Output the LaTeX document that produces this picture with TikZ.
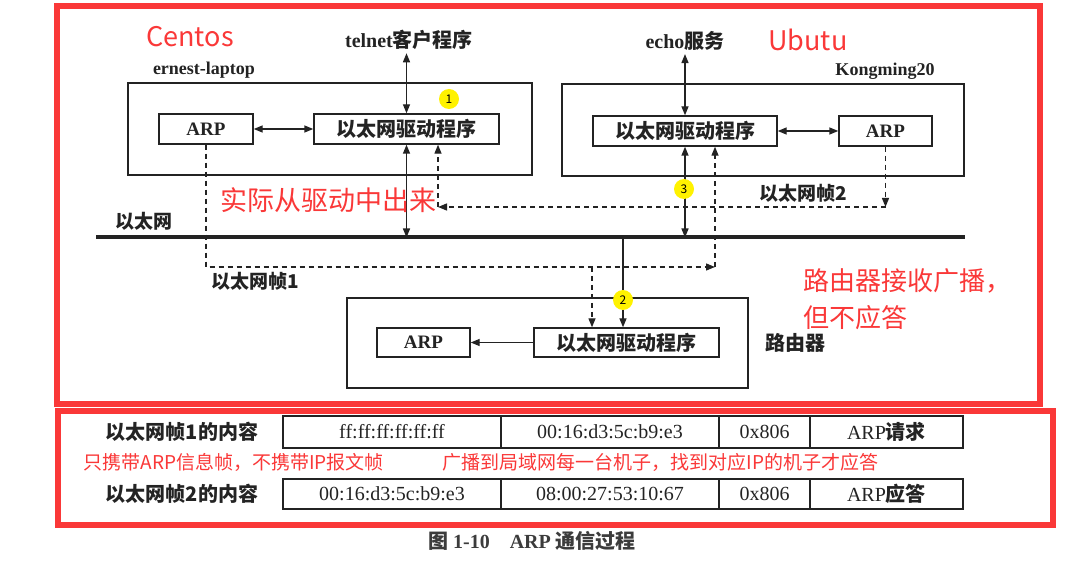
\documentclass[tikz,border=0pt]{standalone}
\usepackage{fontspec}
\setmainfont{Liberation Serif}
\newfontfamily\cjk{Noto Sans CJK SC}
\usetikzlibrary{arrows.meta}
\definecolor{annred}{RGB}{250,56,56}
\definecolor{ink}{RGB}{35,35,35}
\definecolor{capgray}{RGB}{60,60,60}
\newcommand\zhb[1]{{\cjk\bfseries #1}}
\begin{document}
\begin{tikzpicture}[x=1pt,y=-1pt,
  >={Triangle[length=9pt,width=7pt]},
  box/.style n args={2}{draw=ink,line width=1.4pt,minimum width=#1,minimum height=#2,inner sep=0pt},
  cell/.style n args={2}{draw=ink,line width=1.4pt,minimum width=#1,minimum height=#2,inner sep=0pt,font=\fontsize{20}{20}\selectfont,text=ink},
  conn/.style={draw=ink,line width=1.4pt},
  dsh/.style={draw=ink,line width=1.3pt,dash pattern=on 5pt off 4pt},
  lbl/.style={text=ink,font=\fontsize{18}{18}\selectfont\bfseries},
  toplbl/.style={text=ink,font=\fontsize{20}{20}\selectfont\bfseries},
  inlbl/.style={text=ink,font=\fontsize{19}{19}\selectfont\bfseries},
  zlbl/.style={text=ink,font=\fontsize{19}{19}\selectfont\cjk\bfseries},
  zinlbl/.style={text=ink,font=\fontsize{20}{20}\selectfont\cjk\bfseries},
  rbig/.style={text=annred,font=\fontsize{27}{30}\selectfont\cjk},
  rmid/.style={text=annred,font=\fontsize{26}{37}\selectfont\cjk},
  rsmall/.style={text=annred,font=\fontsize{19}{19}\selectfont\cjk},
  ydot/.style={circle,fill=yellow,minimum size=20pt,inner sep=0pt,font=\fontsize{12}{12}\selectfont\cjk}
]
\useasboundingbox (0,0) rectangle (1077,580);
\fill[white] (0,0) rectangle (1077,580);

% ---- ernest-laptop ----
\node[box={404pt}{92pt}] (lap) at (330,129) {};
\node[box={94pt}{30pt},inlbl] (lapARP) at (206,129) {ARP};
\node[box={185pt}{30pt},zinlbl] (lapDrv) at (406.5,129) {以太网驱动程序};
\node[toplbl] (telnet) at (409,40) {telnet\zhb{客户程序}};
\node[lbl] (lapname) at (204,70) {ernest-laptop};

% ---- Kongming20 ----
\node[box={402pt}{92pt}] (kong) at (763,130) {};
\node[box={184pt}{30pt},zinlbl] (kDrv) at (685,131) {以太网驱动程序};
\node[box={93pt}{30pt},inlbl] (kARP) at (885.5,131) {ARP};
\node[toplbl] (echo) at (685,41) {echo\zhb{服务}};
\node[lbl] (kname) at (885,71) {Kongming20};

% ---- router ----
\node[box={401pt}{90pt}] (router) at (547.5,343) {};
\node[box={93pt}{29pt},inlbl] (rARP) at (423.5,342.5) {ARP};
\node[box={185pt}{29pt},zinlbl] (rDrv) at (626.5,342.5) {以太网驱动程序};
\node[zinlbl] (rlbl) at (795,343) {路由器};

% ---- ethernet ----
\coordinate (eL) at (96,237.5);
\coordinate (eR) at (965,237.5);
\draw[ink,line width=4pt] (eL) -- (eR);
\node[zlbl] (ethlbl) at (144,221) {以太网};
\node[zlbl] (f2lbl) at (803,193) {以太网帧2};
\node[zlbl] (f1lbl) at (255,281) {以太网帧1};

\coordinate (f2a) at (887,207);
\coordinate (f2b) at (438,207);
\coordinate (f1a) at (206,267);
\coordinate (f1b) at (715,267);
\coordinate (f1r) at (592,267);
\coordinate (rtap) at (623,237.5);

% solid connectors
\draw[conn,<->] (telnet.south -| lapDrv.north) -- (lapDrv.north);
\draw[conn,<->] (lapDrv.south) -- (lapDrv.south |- eL);
\draw[conn,<->] (lapARP.east) -- (lapDrv.west);
\draw[conn,<->] (echo.south -| kDrv.north) -- (kDrv.north);
\draw[conn,<->] (kDrv.south) -- (kDrv.south |- eL);
\draw[conn,<->] (kDrv.east) -- (kARP.west);
\draw[conn,->] (rtap) -- (rtap |- rDrv.north);
\draw[conn,->] (rDrv.west) -- (rARP.east);

% frame 1 (dashed)
\draw[dsh,->] (lapARP.south) -- (f1a) -- (f1b);
\draw[dsh,->] (f1b) -- (f1b |- kDrv.south);
\draw[dsh,->] (f1r) -- (f1r |- rDrv.north);

% frame 2 (dashed)
\draw[dsh,->] (kARP.south) -- (kARP.south |- f2a);
\draw[dsh,->] (kARP.south |- f2a) -- (f2b);
\draw[dsh,->] (f2b) -- (f2b |- lapDrv.south);

% yellow markers
\node[ydot] (n1) at (449,99) {1};
\node[ydot] (n3) at (684,189) {3};
\node[ydot] (n2) at (623,300) {2};

% red annotations (top)
\node[rbig] (centos) at (190,37) {Centos};
\node[rbig] (ubutu) at (808,40) {Ubutu};
\node[rbig] (actual) at (328,200) {实际从驱动中出来};
\node[rmid,align=left,anchor=west] (rnote) at (800,299) {路由器接收广播，\\但不应答};

% ---- table ----
\node[zlbl,font=\fontsize{20}{20}\selectfont\cjk\bfseries] (t1lbl) at (182,432) {以太网帧1的内容};
\node[cell={218pt}{32pt}] (r1c1) at (392,432) {ff:ff:ff:ff:ff:ff};
\node[cell={218pt}{32pt}] (r1c2) at (610,432) {00:16:d3:5c:b9:e3};
\node[cell={91pt}{32pt}] (r1c3) at (764.5,432) {0x806};
\node[cell={153pt}{32pt}] (r1c4) at (886.5,432) {ARP\zhb{请求}};

\node[zlbl,font=\fontsize{20}{20}\selectfont\cjk\bfseries] (t2lbl) at (182,494) {以太网帧2的内容};
\node[cell={218pt}{30pt}] (r2c1) at (392,494) {00:16:d3:5c:b9:e3};
\node[cell={218pt}{30pt}] (r2c2) at (610,494) {08:00:27:53:10:67};
\node[cell={91pt}{30pt}] (r2c3) at (764.5,494) {0x806};
\node[cell={153pt}{30pt}] (r2c4) at (886.5,494) {ARP\zhb{应答}};

\node[rsmall,anchor=west] (note1) at (80,462) {只携带ARP信息帧，不携带IP报文帧};
\node[rsmall,anchor=west] (note2) at (439,462) {广播到局域网每一台机子，找到对应IP的机子才应答};

% red frames
\draw[annred,line width=6pt] (57,6) rectangle (1040,404);
\draw[annred,line width=6pt] (58,411) rectangle (1053,525);

% caption
\node[text=capgray,font=\fontsize{20}{20}\selectfont\bfseries] (caption) at (532,541) {{\cjk 图} 1-10\quad ARP {\cjk 通信过程}};
\end{tikzpicture}
\end{document}
